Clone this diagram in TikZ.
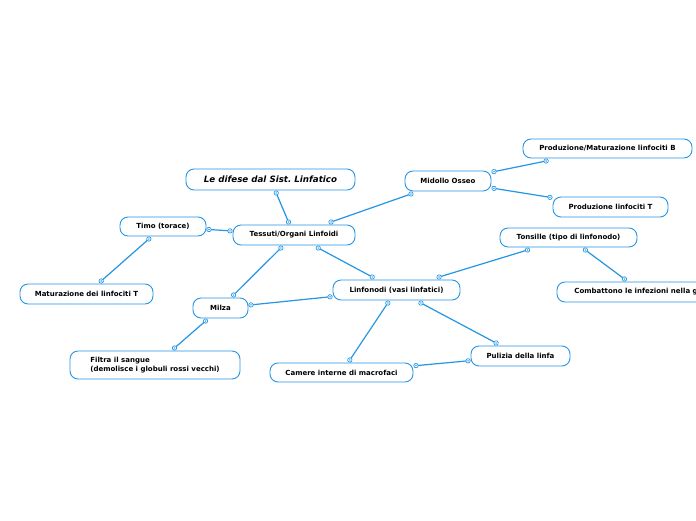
\documentclass[tikz,border=0pt]{standalone}
\usepackage{fontspec}
\setmainfont{DejaVu Sans}
\usetikzlibrary{decorations.markings}
\definecolor{mblue}{RGB}{36,150,228}
\tikzset{
  topic/.style={draw=mblue, line width=0.9pt, fill=white, rounded corners=8pt,
    minimum height=20pt, inner xsep=4pt, inner ysep=2pt, outer sep=3pt,
    font=\fontsize{7}{9}\selectfont\bfseries, text=black},
  titletopic/.style={topic, minimum height=21pt, font=\fontsize{8.7}{10}\selectfont\bfseries\itshape},
  conn/.style={draw=mblue, line width=1.2pt, postaction={decorate},
    decoration={markings,
      mark=at position 0 with {\filldraw[mblue, fill=white, line width=0.7pt] (0,0) circle (2.2pt); \fill[mblue] (0,0) circle (0.8pt);},
      mark=at position 1 with {\filldraw[mblue, fill=white, line width=0.7pt] (0,0) circle (2.2pt); \fill[mblue] (0,0) circle (0.8pt);}}}
}
\begin{document}
\begin{tikzpicture}[x=1pt,y=-1pt]
\fill[white] (0,0) rectangle (696,520);
\useasboundingbox (0,0) rectangle (696,520);
\node[titletopic, minimum width=169pt] (title) at (270.5,179.5) {Le difese dal Sist.\ Linfatico};
\node[topic, minimum width=122pt] (tess) at (294,235) {Tessuti/Organi Linfoidi};
\node[topic, minimum width=86pt] (mid) at (448,181) {Midollo Osseo};
\node[topic, minimum width=169pt, minimum height=19pt] (prodB) at (607.5,148.5) {Produzione/Maturazione linfociti B};
\node[topic, minimum width=115pt] (prodT) at (610.5,207) {Produzione linfociti T};
\node[topic, minimum width=86pt, minimum height=19pt] (timo) at (163,226.5) {Timo (torace)};
\node[topic, minimum width=133pt] (matur) at (86.5,294) {Maturazione dei linfociti T};
\node[topic, minimum width=137pt, minimum height=19pt] (tons) at (568.5,237.5) {Tonsille (tipo di linfonodo)};
\node[topic, minimum width=170pt] (comb) at (642,292) {Combattono le infezioni nella gola};
\node[topic, minimum width=127pt] (linf) at (396.5,290) {Linfonodi (vasi linfatici)};
\node[topic, minimum width=55pt] (milza) at (220.5,308) {Milza};
\node[topic, minimum width=170pt, minimum height=28pt, align=left] (filtra) at (155,365) {Filtra il sangue\\(demolisce i globuli rossi vecchi)};
\node[topic, minimum width=143pt, minimum height=19pt] (camere) at (341.5,372.5) {Camere interne di macrofaci};
\node[topic, minimum width=99pt] (pulizia) at (520.5,356) {Pulizia della linfa};

\draw[conn] (title) -- (tess);
\draw[conn] (tess) -- (mid);
\draw[conn] (mid) -- (prodB);
\draw[conn] (mid) -- (prodT);
\draw[conn] (tess) -- (timo);
\draw[conn] (timo) -- (matur);
\draw[conn] (tess) -- (milza);
\draw[conn] (tess) -- (linf);
\draw[conn] (linf) -- (tons);
\draw[conn] (tons) -- (comb);
\draw[conn] (linf) -- (milza);
\draw[conn] (milza) -- (filtra);
\draw[conn] (linf) -- (camere);
\draw[conn] (linf) -- (pulizia);
\draw[conn] (pulizia) -- (camere);
\end{tikzpicture}
\end{document}
